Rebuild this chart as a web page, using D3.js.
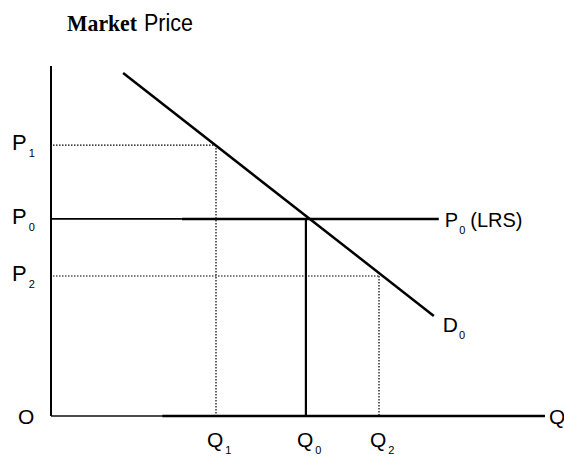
<!DOCTYPE html>
<html>
<head>
<meta charset="utf-8">
<script src="https://cdn.jsdelivr.net/npm/d3@7"></script>
<style>
  body { margin: 0; background: #fff; }
  text { font-family: "Liberation Sans", Arial, sans-serif; fill: #000; }
</style>
</head>
<body>
<div id="chart"></div>
<script>
// quantities and prices (0-100 units on each axis)
var qNames = ["1", "0", "2"];
var qValues = [33.4, 51.6, 66.4];
var pNames = ["1", "0", "2"];
var pValues = [77.4, 56.3, 40.0];
// demand curve D0, two end points
var demandQ = [14.6, 77.5];
var demandP = [98.0, 28.6];

var svgWidth = 564;
var svgHeight = 456;

var svg = d3.select("#chart")
  .append("svg")
  .attr("width", svgWidth)
  .attr("height", svgHeight);

var x = d3.scaleLinear().domain([0, 100]).range([51, 545]);
var y = d3.scaleLinear().domain([0, 100]).range([416, 66]);

// title
svg.append("text")
  .attr("x", 67).attr("y", 31)
  .style("font-family", "'Liberation Serif', 'Times New Roman', serif")
  .attr("font-weight", "bold")
  .attr("font-size", "24px")
  .attr("textLength", 70)
  .attr("lengthAdjust", "spacingAndGlyphs")
  .text("Market");
svg.append("text")
  .attr("x", 144).attr("y", 31)
  .attr("font-size", "23px")
  .attr("textLength", 49)
  .attr("lengthAdjust", "spacingAndGlyphs")
  .text("Price");

// dotted guide lines for P1/Q1 and P2/Q2
var dotted = [0, 2];
dotted.forEach(function(i) {
  svg.append("line")
    .attr("x1", x(0) + 2).attr("x2", x(qValues[i]))
    .attr("y1", y(pValues[i])).attr("y2", y(pValues[i]))
    .attr("stroke", "#000").attr("stroke-width", 1.2)
    .attr("stroke-dasharray", "1.5,1.5");
  svg.append("line")
    .attr("x1", x(qValues[i])).attr("x2", x(qValues[i]))
    .attr("y1", y(pValues[i])).attr("y2", y(0))
    .attr("stroke", "#000").attr("stroke-width", 1.2)
    .attr("stroke-dasharray", "1.5,1.5");
});

// axes
svg.append("line")
  .attr("x1", x(0)).attr("x2", x(0))
  .attr("y1", y(100)).attr("y2", y(0))
  .attr("stroke", "#000").attr("stroke-width", 2);
// x axis: lighter at the left, heavy from there on
svg.append("line")
  .attr("x1", x(0)).attr("x2", x(22.5))
  .attr("y1", y(0)).attr("y2", y(0))
  .attr("stroke", "#111").attr("stroke-width", 1.5);
svg.append("line")
  .attr("x1", x(22.5)).attr("x2", x(100))
  .attr("y1", y(0)).attr("y2", y(0))
  .attr("stroke", "#000").attr("stroke-width", 2.5);

// P0 (LRS) horizontal supply line
svg.append("line")
  .attr("x1", x(0)).attr("x2", x(26.5))
  .attr("y1", y(pValues[1])).attr("y2", y(pValues[1]))
  .attr("stroke", "#000").attr("stroke-width", 1.8);
svg.append("line")
  .attr("x1", x(26.5)).attr("x2", x(78.5))
  .attr("y1", y(pValues[1])).attr("y2", y(pValues[1]))
  .attr("stroke", "#000").attr("stroke-width", 2.5);

// Q0 solid drop line
svg.append("line")
  .attr("x1", x(qValues[1])).attr("x2", x(qValues[1]))
  .attr("y1", y(pValues[1])).attr("y2", y(0))
  .attr("stroke", "#000").attr("stroke-width", 2.2);

// demand curve
var demand = demandQ.map(function(q, i) { return [q, demandP[i]]; });
svg.append("path")
  .datum(demand)
  .attr("d", d3.line().x(d => x(d[0])).y(d => y(d[1])))
  .attr("fill", "none")
  .attr("stroke", "#000")
  .attr("stroke-width", 2.5);

// price labels
svg.selectAll(".plabel")
  .data(pValues)
  .enter()
  .append("text")
  .attr("class", "plabel")
  .attr("x", 12)
  .attr("y", d => y(d) + 5)
  .attr("font-size", "22px")
  .each(function(d, i) {
    var t = d3.select(this);
    t.append("tspan").text("P");
    t.append("tspan").attr("font-size", "11px").attr("dx", 2).attr("dy", 7).text(pNames[i]);
  });

// quantity labels
svg.selectAll(".qlabel")
  .data(qValues)
  .enter()
  .append("text")
  .attr("class", "qlabel")
  .attr("x", d => x(d) - 9)
  .attr("y", 447)
  .attr("font-size", "21px")
  .each(function(d, i) {
    var t = d3.select(this);
    t.append("tspan").text("Q");
    t.append("tspan").attr("font-size", "11px").attr("dx", 2).attr("dy", 7).text(qNames[i]);
  });

// origin and axis names
svg.append("text").attr("x", 18).attr("y", 424).attr("font-size", "21px").text("O");
svg.append("text").attr("x", 549).attr("y", 424).attr("font-size", "21px").text("Q");

// P0 (LRS) label
var lrs = svg.append("text")
  .attr("x", x(78.5) + 6)
  .attr("y", y(pValues[1]) + 8)
  .attr("font-size", "20px");
lrs.append("tspan").text("P");
lrs.append("tspan").attr("font-size", "11px").attr("dx", 1).attr("dy", 7).text("0");
lrs.append("tspan").attr("dx", 5).attr("dy", -7).text("(LRS)");

// D0 label
var dl = svg.append("text")
  .attr("x", x(demandQ[1]) + 9)
  .attr("y", y(demandP[1]) + 16)
  .attr("font-size", "21px");
dl.append("tspan").text("D");
dl.append("tspan").attr("font-size", "11px").attr("dx", 1).attr("dy", 7).text("0");
</script>
</body>
</html>
